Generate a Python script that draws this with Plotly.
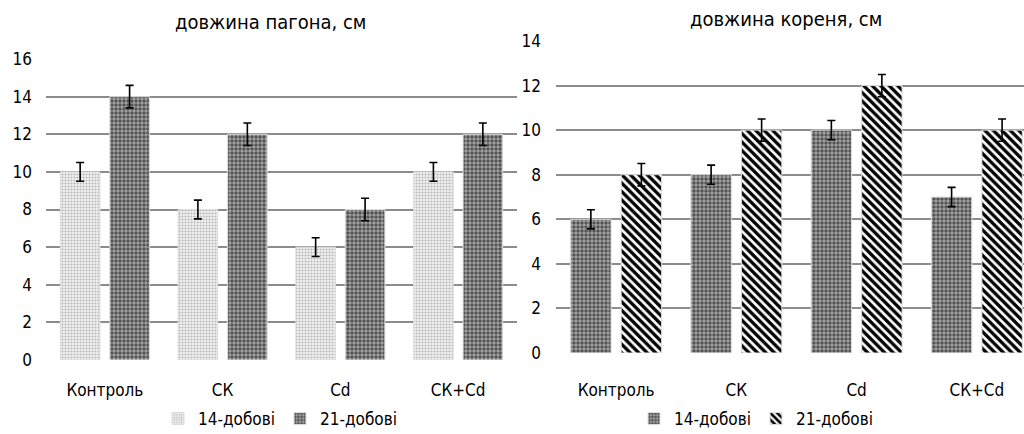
import plotly.graph_objects as go

categories = ["Контроль", "СК", "Cd", "СК+Cd"]
series_names = ["14-добові", "21-добові"]

shoot_14 = [10, 8, 6, 10]
shoot_21 = [14, 12, 8, 12]
shoot_14_err = [0.5, 0.5, 0.5, 0.5]
shoot_21_err = [0.6, 0.6, 0.6, 0.6]

root_14 = [6, 8, 10, 7]
root_21 = [8, 10, 12, 10]
root_14_err = [0.43, 0.43, 0.43, 0.43]
root_21_err = [0.5, 0.5, 0.5, 0.5]

left_ticks = [0, 2, 4, 6, 8, 10, 12, 14, 16]
right_ticks = [0, 2, 4, 6, 8, 10, 12, 14]

FONT = "DejaVu Sans Condensed, Roboto, sans-serif"
GRID = "#8c8c8c"

light_dots = dict(shape=".", fgcolor="#7a7a7a", bgcolor="#f2f2f2", size=3, solidity=0.4)
dark_dots = dict(shape=".", fgcolor="#000000", bgcolor="#a8a8a8", size=4, solidity=0.6)
stripes = dict(shape="\\", fgcolor="#000000", bgcolor="#ffffff", size=6, solidity=0.55,
               fgopacity=1)

def err(arr):
    return dict(type="data", array=arr, visible=True, color="black", thickness=1.6, width=4)

fig = go.Figure()

fig.add_trace(go.Bar(
    x=categories, y=shoot_14, name=series_names[0], xaxis="x", yaxis="y",
    marker=dict(color="#f2f2f2", pattern=light_dots, line=dict(color="#dcdcdc", width=1)),
    error_y=err(shoot_14_err), legend="legend"))
fig.add_trace(go.Bar(
    x=categories, y=shoot_21, name=series_names[1], xaxis="x", yaxis="y",
    marker=dict(color="#a8a8a8", pattern=dark_dots, line=dict(color="#dcdcdc", width=1)),
    error_y=err(shoot_21_err), legend="legend"))
fig.add_trace(go.Bar(
    x=categories, y=root_14, name=series_names[0], xaxis="x2", yaxis="y2",
    marker=dict(color="#a8a8a8", pattern=dark_dots, line=dict(color="#dcdcdc", width=1)),
    error_y=err(root_14_err), legend="legend2"))
fig.add_trace(go.Bar(
    x=categories, y=root_21, name=series_names[1], xaxis="x2", yaxis="y2",
    marker=dict(color="#ffffff", pattern=stripes, line=dict(color="#dcdcdc", width=1)),
    error_y=err(root_21_err), legend="legend2"))

H = 434.0
W = 1024.0

fig.update_layout(
    width=1024, height=434,
    margin=dict(l=0, r=0, t=0, b=0, autoexpand=False),
    paper_bgcolor="white", plot_bgcolor="white",
    font=dict(family=FONT, size=17, color="black"),
    barmode="group", bargap=0.16, bargroupgap=0.2,
    xaxis=dict(domain=[46 / W, 517 / W], anchor="y", type="category",
               range=[-0.5, 3.5], showgrid=False, showline=False, zeroline=False,
               ticks="", ticklabelstandoff=18, tickfont=dict(size=17)),
    yaxis=dict(domain=[1 - 360 / H, 1 - 59 / H], anchor="x", range=[0, 16],
               tickvals=left_ticks, showgrid=True, gridcolor=GRID, gridwidth=1.8,
               zeroline=False, showline=False, ticks="", ticklabelstandoff=13,
               tickfont=dict(size=17)),
    xaxis2=dict(domain=[556 / W, 1.0], anchor="y2", type="category",
                range=[-0.5, 3.5 - 13 / 120.5], showgrid=False, showline=False,
                zeroline=False, ticks="", ticklabelstandoff=25, tickfont=dict(size=17)),
    yaxis2=dict(domain=[1 - 353 / H, 1 - 41 / H], anchor="x2", range=[0, 14],
                tickvals=right_ticks, showgrid=True, gridcolor=GRID, gridwidth=1.8,
                zeroline=False, showline=False, ticks="", ticklabelstandoff=14,
                tickfont=dict(size=17)),
    legend=dict(orientation="h", x=280 / W, xanchor="center", y=1 - 419 / H,
                yanchor="middle", font=dict(size=17), bgcolor="rgba(0,0,0,0)",
                itemwidth=30, tracegroupgap=0),
    legend2=dict(orientation="h", x=756 / W, xanchor="center", y=1 - 419 / H,
                 yanchor="middle", font=dict(size=17), bgcolor="rgba(0,0,0,0)",
                 itemwidth=30, tracegroupgap=0),
    annotations=[
        dict(text="довжина пагона, см", xref="paper", yref="paper",
             x=270 / W, y=1 - 22 / H, xanchor="center", yanchor="middle",
             showarrow=False, font=dict(size=20)),
        dict(text="довжина кореня, см", xref="paper", yref="paper",
             x=786 / W, y=1 - 19 / H, xanchor="center", yanchor="middle",
             showarrow=False, font=dict(size=20)),
    ],
)

fig.write_html("out.html", config={"displayModeBar": False},
               post_script="document.body.style.margin='0';")
